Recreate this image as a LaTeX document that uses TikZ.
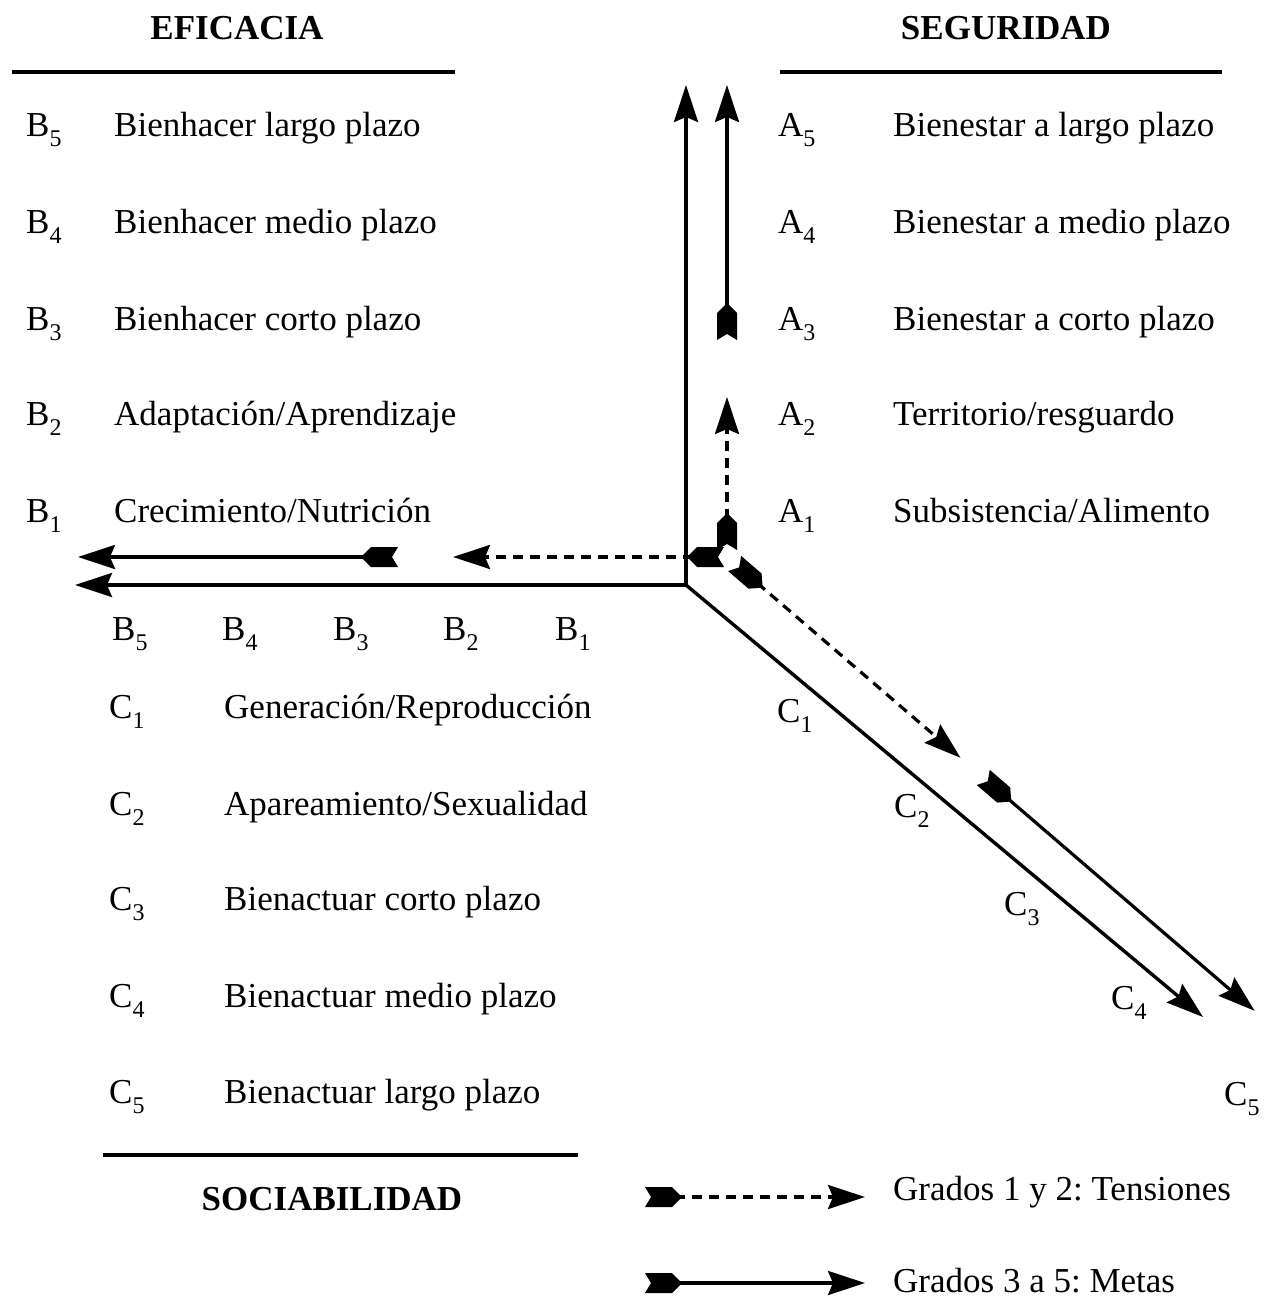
\documentclass[tikz,border=0pt]{standalone}
\usepackage{fontspec}
\setmainfont{Liberation Serif}
\usetikzlibrary{arrows.meta}
\frenchspacing
\newcommand\sbx[1]{\raisebox{-10pt}{\fontsize{24}{24}\selectfont #1}}
\tikzset{
  x=1pt, y=1pt,
  tip/.style={-{Stealth[length=37pt,width=24pt,inset=5pt]}},
  axisline/.style={line width=3.4pt},
  solidarrow/.style={line width=3.2pt, tip},
  dasharrow/.style={line width=3.2pt, dash pattern=on 10pt off 7pt, tip},
  rule/.style={line width=3.4pt},
  lbl/.style={anchor=base west, inner sep=0pt, font=\fontsize{35}{40}\selectfont},
  ttl/.style={anchor=base, inner sep=0pt, font=\fontsize{35}{40}\selectfont\bfseries},
  fletch/.pic={\fill (0,10) -- (27,10) -- (37,0) -- (27,-10) -- (0,-10) -- (6,0) -- cycle;}
}
\begin{document}
\begin{tikzpicture}
\useasboundingbox (0,0) rectangle (1270,-1300);

% ---- headings and rules
\node[ttl] (efi) at (237,-40) {EFICACIA};
\node[ttl] (seg) at (1006,-40) {SEGURIDAD};
\node[ttl] (soc) at (332,-1210) {SOCIABILIDAD};
\draw[rule] (12,-72) -- (455,-72);
\draw[rule] (780,-72) -- (1222,-72);
\draw[rule] (103,-1155) -- (578,-1155);

% ---- B list
\foreach \y/\k/\t in {137/5/{Bienhacer largo plazo}, 233/4/{Bienhacer medio plazo},
  330/3/{Bienhacer corto plazo}, 425/2/{Adaptación/Aprendizaje}, 522/1/{Crecimiento/Nutrición}}{
  \node[lbl] (bk\k) at (26,-\y) {B\sbx{\k}};
  \node[lbl] (bt\k) at (114,-\y) {\t};
}
% ---- A list
\foreach \y/\k/\t in {137/5/{Bienestar a largo plazo}, 233/4/{Bienestar a medio plazo},
  330/3/{Bienestar a corto plazo}, 425/2/{Territorio/resguardo}, 522/1/{Subsistencia/Alimento}}{
  \node[lbl] (ak\k) at (778,-\y) {A\sbx{\k}};
  \node[lbl] (at\k) at (893,-\y) {\t};
}
% ---- C list
\foreach \y/\k/\t in {718/1/{Generación/Reproducción}, 815/2/{Apareamiento/Sexualidad},
  910/3/{Bienactuar corto plazo}, 1007/4/{Bienactuar medio plazo}, 1103/5/{Bienactuar largo plazo}}{
  \node[lbl] (ck\k) at (109,-\y) {C\sbx{\k}};
  \node[lbl] (ct\k) at (224,-\y) {\t};
}

% ---- scale marks on the horizontal axis
\foreach \x/\k in {112/5, 222/4, 333/3, 443/2, 555/1}
  \node[lbl] (hb\k) at (\x,-640) {B\sbx{\k}};
% ---- scale marks on the diagonal axis
\foreach \x/\y/\k in {777/722/1, 894/817/2, 1004/915/3, 1111/1009/4, 1224/1105/5}
  \node[lbl] (dc\k) at (\x,-\y) {C\sbx{\k}};

% ---- main axes
\coordinate (O) at (686,-585);
\coordinate (vtop) at (686,-85);
\coordinate (hleft) at (75,-585);
\coordinate (dend) at (1203,-1017);
\draw[axisline, {Stealth[length=37pt,width=24pt,inset=5pt]}-{Stealth[length=37pt,width=24pt,inset=5pt]}]
  (vtop) -- (O) -- (hleft);
\draw[axisline, tip] (O) -- (dend);

% ---- graded arrows: vertical
\coordinate (P) at (727,-557);
\coordinate (v1b) at (727,-550);
\coordinate (v1s) at (727,-519);
\coordinate (v1t) at (727,-397);
\coordinate (v2b) at (727,-340);
\coordinate (v2s) at (727,-309);
\coordinate (v2t) at (727,-85);
\draw[dasharrow] (v1s) -- (v1t);
\draw[solidarrow] (v2s) -- (v2t);
\pic[rotate=90] at (v1b) {fletch};
\pic[rotate=90] at (v2b) {fletch};

% ---- graded arrows: horizontal
\coordinate (h1b) at (724,-557);
\coordinate (h1s) at (693,-557);
\coordinate (h1t) at (453,-557);
\coordinate (h2b) at (398,-557);
\coordinate (h2s) at (367,-557);
\coordinate (h2t) at (78,-557);
\draw[dasharrow] (h1s) -- (h1t);
\draw[solidarrow] (h2s) -- (h2t);
\pic[rotate=180] at (h1b) {fletch};
\pic[rotate=180] at (h2b) {fletch};

% ---- graded arrows: diagonal
\coordinate (d1b) at (734.6,-563.5);
\coordinate (d1s) at (757.3,-583.1);
\coordinate (d1t) at (960.5,-757.8);
\coordinate (d2b) at (983.2,-777.4);
\coordinate (d2s) at (1005.9,-796.9);
\coordinate (d2t) at (1254.6,-1010.8);
\draw[dasharrow] (d1s) -- (d1t);
\draw[solidarrow] (d2s) -- (d2t);
\pic[rotate=-40.7] at (d1b) {fletch};
\pic[rotate=-40.7] at (d2b) {fletch};

% common starting point of the graded arrows
\fill[white] (P) circle (7.5);

% ---- legend
\coordinate (l1b) at (645,-1197);
\coordinate (l1s) at (675,-1197);
\coordinate (l1t) at (865,-1197);
\coordinate (l2b) at (645,-1283);
\coordinate (l2s) at (675,-1283);
\coordinate (l2t) at (865,-1283);
\draw[dasharrow] (l1s) -- (l1t);
\draw[solidarrow] (l2s) -- (l2t);
\pic at (l1b) {fletch};
\pic at (l2b) {fletch};
\node[lbl] (leg1) at (893,-1200) {Grados 1 y 2: Tensiones};
\node[lbl] (leg2) at (893,-1292) {Grados 3 a 5: Metas};
\end{tikzpicture}
\end{document}
